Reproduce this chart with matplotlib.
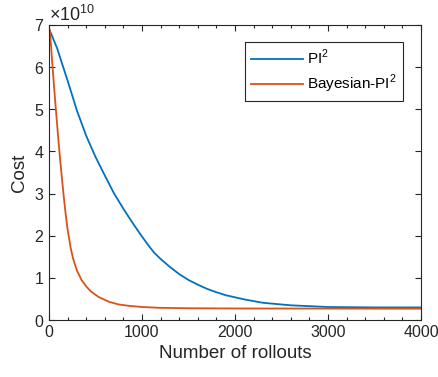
import matplotlib
matplotlib.use("Agg")
import matplotlib.pyplot as plt
from matplotlib.ticker import MultipleLocator

plt.rcParams['font.family'] = ['Liberation Sans', 'DejaVu Sans']
plt.rcParams['mathtext.fontset'] = 'custom'
plt.rcParams['mathtext.rm'] = 'Liberation Sans'

# Data (cost in units of 1e10)
pi2_x = [10, 90, 145, 200, 300, 400, 500, 600, 700, 800, 900, 1000,
         1080, 1130, 1200, 1300, 1400, 1500, 1600, 1700, 1800, 1900, 2000, 2100,
         2200, 2300, 2400, 2600, 2800, 3000, 3500, 4000]
pi2_y = [6.86, 6.43, 6.05, 5.68, 4.97, 4.37, 3.87, 3.43, 3.0, 2.64,
         2.3, 1.98, 1.74, 1.6, 1.45, 1.26, 1.09, 0.95, 0.84, 0.74, 0.66, 0.59,
         0.54, 0.49, 0.45, 0.41, 0.39, 0.35, 0.33, 0.31, 0.30, 0.30]

bpi2_x = [10, 40, 70, 100, 120, 144, 160, 180, 200, 234, 260, 300, 350, 400, 450,
          500, 540, 600, 650, 750, 850, 1000, 1200, 1500, 2000, 4000]
bpi2_y = [6.87, 5.95, 5.1, 4.3, 3.8, 3.25, 2.9, 2.5, 2.15, 1.7, 1.45, 1.18, 0.95,
          0.8, 0.68, 0.6, 0.54, 0.48, 0.43, 0.37, 0.34, 0.31, 0.29, 0.28, 0.275,
          0.27]

labels = ['PI$^2$', 'Bayesian-PI$^2$']
scale = 1e10

fig = plt.figure(figsize=(4.39, 3.77), dpi=100)
ax = fig.add_axes([0.1116, 0.151, 0.8474, 0.783])

ax.plot(pi2_x, [v * scale for v in pi2_y], color='#0072BD', lw=1.3, label=labels[0])
ax.plot(bpi2_x, [v * scale for v in bpi2_y], color='#D95319', lw=1.3, label=labels[1])

ax.set_xlim(0, 4000)
ax.set_ylim(0, 7e10)
ax.xaxis.set_major_locator(MultipleLocator(1000))
ax.xaxis.set_minor_locator(MultipleLocator(200))
ax.yaxis.set_major_locator(MultipleLocator(1e10))
ax.ticklabel_format(axis='y', style='sci', scilimits=(10, 10), useMathText=True)

ax.tick_params(which='both', direction='in', top=True, right=True,
               color='#262626', labelcolor='#262626', labelsize=11.5, width=0.8)
ax.tick_params(which='major', length=4)
ax.tick_params(which='minor', length=2.5)
for s in ax.spines.values():
    s.set_color('#262626')
    s.set_linewidth(0.8)

ax.yaxis.get_offset_text().set_fontsize(13)
ax.yaxis.get_offset_text().set_color('#262626')

ax.set_xlabel('Number of rollouts', fontsize=13.5, color='#262626')
ax.set_ylabel('Cost', fontsize=13.5, color='#262626')

leg = ax.legend(loc='upper left', bbox_to_anchor=(0.526, 0.942), borderaxespad=0,
                fontsize=11, fancybox=False, framealpha=1, edgecolor='#262626',
                handlelength=3.4, handletextpad=0.3, borderpad=0.4,
                labelspacing=0.35)
leg.get_frame().set_linewidth(0.8)

fig.savefig('out.png', dpi=100)
